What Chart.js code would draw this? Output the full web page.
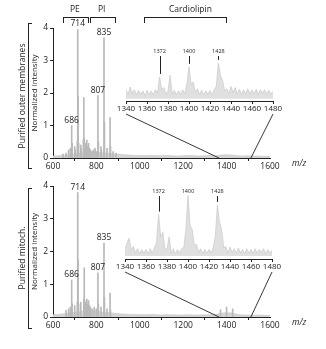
<!DOCTYPE html>
<html>
<head>
<meta charset="utf-8">
<script src="https://cdn.jsdelivr.net/npm/chart.js@4.4.1/dist/chart.umd.min.js"></script>
<style>
  body{margin:0;background:#fff;width:326px;height:349px;position:relative;overflow:hidden;font-family:"Open Sans",sans-serif;color:#222}
  canvas{position:absolute}
  .t{position:absolute;font-size:8.5px;white-space:nowrap;line-height:1}
  .br{position:absolute;border:1px solid #222;border-bottom:none;height:5px}
  .vb{position:absolute;border:1px solid #222;border-right:none;width:3px}
  .rot{position:absolute;transform:translate(-50%,-50%) rotate(-90deg);font-size:8.5px;white-space:nowrap}
</style>
</head>
<body>
<canvas id="mainTop" width="326" height="175" style="left:0;top:0"></canvas>
<canvas id="mainBot" width="326" height="179" style="left:0;top:170px"></canvas>
<canvas id="insetTop" width="180" height="75" style="left:110px;top:40px"></canvas>
<canvas id="insetBot" width="180" height="94" style="left:110px;top:180px"></canvas>

<!-- lipid class brackets -->
<div class="t" style="left:70px;top:5px">PE</div>
<div class="t" style="left:98px;top:5px">PI</div>
<div class="t" style="left:169px;top:5px">Cardiolipin</div>
<div class="br" style="left:63px;top:17px;width:24px"></div>
<div class="br" style="left:90px;top:17px;width:24px"></div>
<div class="br" style="left:144px;top:17px;width:81px"></div>

<!-- panel brackets and titles -->
<div class="vb" style="left:28px;top:23px;height:144px"></div>
<div class="vb" style="left:28px;top:188px;height:139px"></div>
<div class="rot" style="left:21px;top:96px">Purified outer membranes</div>
<div class="rot" style="left:21px;top:258px">Purified mitoch.</div>

<div class="t" style="left:292px;top:159px;font-style:italic">m/z</div>
<div class="t" style="left:292px;top:318px;font-style:italic">m/z</div>

<script>
// ---------- axes ----------
const mainTicksX = [600, 800, 1000, 1200, 1400, 1600];
const mainTicksY = [0, 1, 2, 3, 4];
const insetTicksX = [1340, 1360, 1380, 1400, 1420, 1440, 1460, 1480];

// ---------- outer membranes, peak sticks ----------
const outerMz  = [646, 660, 672, 680, 686, 688, 700, 702, 712, 714, 716, 718, 728, 730, 740, 742, 744, 750, 752, 756, 760, 764, 768, 772, 778, 786, 794, 800, 807, 809, 821, 823, 835, 837, 849, 863, 865, 877, 891];
const outerInt = [0.12, 0.15, 0.25, 0.3, 1.0, 0.45, 0.35, 0.25, 0.5, 3.96, 1.9, 0.45, 0.4, 0.3, 0.55, 1.86, 0.6, 0.45, 0.35, 0.55, 0.35, 0.45, 0.3, 0.25, 0.2, 0.25, 0.3, 0.2, 1.92, 0.5, 0.35, 0.25, 3.7, 1.1, 0.3, 1.24, 0.35, 0.2, 0.15];

// ---------- mitochondria, peak sticks ----------
const mitoMz  = [660, 672, 680, 686, 688, 700, 712, 714, 716, 718, 728, 742, 744, 746, 750, 756, 760, 764, 768, 772, 780, 790, 800, 807, 809, 821, 835, 837, 849, 863, 865, 1372, 1400, 1428];
const mitoInt = [0.2, 0.25, 0.3, 1.13, 0.4, 0.35, 0.45, 3.8, 1.75, 0.4, 0.45, 0.55, 1.5, 0.5, 0.45, 0.55, 0.4, 0.5, 0.35, 0.3, 0.25, 0.3, 0.25, 1.35, 0.4, 0.3, 2.26, 0.6, 0.25, 0.73, 0.2, 0.22, 0.3, 0.25];

// ---------- baseline noise, every 25 m/z from 600 to 1600 ----------
const noiseMz = [600, 625, 650, 675, 700, 725, 750, 775, 800, 825, 850, 875, 900, 925, 950, 975, 1000, 1025, 1050, 1075, 1100, 1125, 1150, 1175, 1200, 1225, 1250, 1275, 1300, 1325, 1350, 1375, 1400, 1425, 1450, 1475, 1500, 1525, 1550, 1575, 1600];
const outerNoise = [0.06, 0.07, 0.08, 0.1, 0.12, 0.15, 0.18, 0.2, 0.18, 0.16, 0.15, 0.13, 0.12, 0.1, 0.09, 0.08, 0.08, 0.07, 0.08, 0.07, 0.07, 0.08, 0.07, 0.06, 0.07, 0.08, 0.07, 0.06, 0.07, 0.08, 0.07, 0.09, 0.1, 0.09, 0.07, 0.06, 0.07, 0.06, 0.06, 0.05, 0.05];
const mitoNoise  = [0.07, 0.08, 0.1, 0.12, 0.14, 0.16, 0.2, 0.22, 0.18, 0.15, 0.14, 0.12, 0.1, 0.09, 0.08, 0.08, 0.07, 0.07, 0.08, 0.07, 0.06, 0.07, 0.07, 0.06, 0.06, 0.07, 0.06, 0.06, 0.07, 0.07, 0.08, 0.12, 0.13, 0.12, 0.08, 0.06, 0.06, 0.05, 0.06, 0.05, 0.05];

const peakLabels = [686, 714, 807, 835];

// ---------- cardiolipin insets, every 2 m/z from 1340 to 1480 ----------
const insetMz = [1340, 1342, 1344, 1346, 1348, 1350, 1352, 1354, 1356, 1358, 1360, 1362, 1364, 1366, 1368, 1370, 1372, 1374, 1376, 1378, 1380, 1382, 1384, 1386, 1388, 1390, 1392, 1394, 1396, 1398, 1400, 1402, 1404, 1406, 1408, 1410, 1412, 1414, 1416, 1418, 1420, 1422, 1424, 1426, 1428, 1430, 1432, 1434, 1436, 1438, 1440, 1442, 1444, 1446, 1448, 1450, 1452, 1454, 1456, 1458, 1460, 1462, 1464, 1466, 1468, 1470, 1472, 1474, 1476, 1478, 1480];
const outerCL = [0.2, 0.12, 0.25, 0.14, 0.2, 0.11, 0.19, 0.12, 0.18, 0.1,
                 0.19, 0.12, 0.18, 0.11, 0.2, 0.14, 0.43, 0.2, 0.24, 0.12,
                 0.18, 0.46, 0.12, 0.19, 0.11, 0.18, 0.12, 0.2, 0.13, 0.3,
                 0.61, 0.3, 0.34, 0.16, 0.22, 0.12, 0.19, 0.11, 0.18, 0.12,
                 0.19, 0.11, 0.2, 0.26, 0.68, 0.45, 0.36, 0.18, 0.22, 0.13,
                 0.26, 0.15, 0.24, 0.13, 0.21, 0.12, 0.2, 0.13, 0.22, 0.12,
                 0.2, 0.13, 0.21, 0.12, 0.2, 0.14, 0.2, 0.12, 0.19, 0.13,
                 0.17];
const mitoCL  = [0.14, 0.22, 0.28, 0.12, 0.17, 0.08, 0.14, 0.07, 0.13, 0.08,
                 0.13, 0.07, 0.14, 0.08, 0.15, 0.22, 0.6, 0.3, 0.36, 0.14,
                 0.13, 0.3, 0.08, 0.14, 0.07, 0.13, 0.08, 0.14, 0.16, 0.4,
                 0.86, 0.45, 0.4, 0.18, 0.2, 0.09, 0.14, 0.07, 0.13, 0.08,
                 0.13, 0.08, 0.16, 0.3, 0.73, 0.5, 0.4, 0.15, 0.17, 0.08,
                 0.16, 0.09, 0.14, 0.08, 0.15, 0.08, 0.13, 0.07, 0.14, 0.08,
                 0.13, 0.07, 0.14, 0.08, 0.13, 0.09, 0.14, 0.07, 0.13, 0.08,
                 0.12];
const clLabels = [1372, 1400, 1428];

// where the zoom lines meet the main axis
const zoomFrom = [1340, 1480];
const zoomTo   = [1365, 1512];

const INK = '#222';
const GREY = '#b9b9b9';
Chart.defaults.font.family = '"Open Sans", sans-serif';
Chart.defaults.color = INK;
Chart.defaults.animation = false;

function xy(xs, ys){ return xs.map((x,i) => ({x:x, y:ys[i]})); }
const plain = v => String(v);

// ==================== INSET ====================
function makeInset(id, vals, pad, axisH){
    const labelPlugin = {
        id:'cl',
        afterDatasetsDraw(c){
            const ctx = c.ctx, top = c.chartArea.top;
            ctx.save();
            ctx.font = '5.5px "Open Sans"';
            ctx.fillStyle = INK; ctx.strokeStyle = INK; ctx.lineWidth = 1;
            ctx.textAlign = 'center'; ctx.textBaseline = 'middle';
            clLabels.forEach(m => {
                const px = c.scales.x.getPixelForValue(m);
                const py = c.scales.y.getPixelForValue(vals[insetMz.indexOf(m)]);
                ctx.fillText(String(m), px, top + 6);
                if(py - 3 > top + 11){
                    ctx.beginPath();
                    ctx.moveTo(Math.round(px)+0.5, top + 11);
                    ctx.lineTo(Math.round(px)+0.5, py - 3);
                    ctx.stroke();
                }
            });
            ctx.restore();
        }
    };
    return new Chart(document.getElementById(id), {
        type:'line',
        data:{ datasets:[{
            data: xy(insetMz, vals),
            borderColor:'#c8c8c8', borderWidth:0.7,
            backgroundColor:'#e0e0e0',
            fill:{value:0.04}, pointRadius:0, tension:0
        }]},
        options:{
            responsive:false,
            layout:{ padding:pad },
            plugins:{ legend:{display:false}, tooltip:{enabled:false} },
            scales:{
                x:{ type:'linear', min:1340, max:1480,
                    afterBuildTicks: s => { s.ticks = insetTicksX.map(v => ({value:v})); },
                    afterFit: s => { s.height = axisH; },
                    border:{ display:true, color:INK, width:1 },
                    grid:{ display:true, drawOnChartArea:false, drawTicks:true, tickLength:3, color:INK },
                    ticks:{ font:{size:8}, padding:0, maxRotation:0, autoSkip:false, callback:plain }
                },
                y:{ display:false, min:0, max:1 }
            }
        },
        plugins:[labelPlugin]
    });
}

// ==================== MAIN PANEL ====================
function makeMain(id, mz, inten, noise, pad, inset, insetPos, mainTop){
    const annot = {
        id:'annot',
        afterDatasetsDraw(c){
            const ctx = c.ctx, x = c.scales.x, y = c.scales.y;
            ctx.save();
            ctx.fillStyle = INK;
            ctx.font = '8.5px "Open Sans"';
            ctx.textAlign = 'center'; ctx.textBaseline = 'bottom';
            peakLabels.forEach(m => {
                const h = inten[mz.indexOf(m)];
                ctx.fillText(String(m), x.getPixelForValue(m), y.getPixelForValue(h) - 1);
            });
            // zoom lines from inset axis down to main axis
            ctx.strokeStyle = INK; ctx.lineWidth = 0.9;
            zoomFrom.forEach((v,i) => {
                const sx = inset.scales.x.getPixelForValue(v) + insetPos[0];
                const sy = inset.chartArea.bottom + insetPos[1] - mainTop + 13;
                ctx.beginPath();
                ctx.moveTo(sx, sy);
                ctx.lineTo(x.getPixelForValue(zoomTo[i]), c.chartArea.bottom);
                ctx.stroke();
            });
            ctx.restore();
        }
    };
    return new Chart(document.getElementById(id), {
        type:'bar',
        data:{ datasets:[
            { type:'bar', data: xy(mz, inten), backgroundColor:GREY,
              barThickness:1, grouped:false, order:1 },
            { type:'line', data: xy(noiseMz, noise), borderColor:'#c4c4c4', borderWidth:0.6,
              backgroundColor:'#d4d4d4', fill:'origin', pointRadius:0, tension:0, order:2 }
        ]},
        options:{
            responsive:false,
            layout:{ padding:pad },
            plugins:{ legend:{display:false}, tooltip:{enabled:false} },
            scales:{
                x:{ type:'linear', min:600, max:1600, offset:false,
                    afterBuildTicks: s => { s.ticks = mainTicksX.map(v => ({value:v})); },
                    afterFit: s => { s.height = 17; },
                    border:{ display:true, color:INK, width:1 },
                    grid:{ display:true, drawOnChartArea:false, drawTicks:true, tickLength:3, color:INK },
                    ticks:{ font:{size:8.5}, padding:0, maxRotation:0, autoSkip:false, callback:plain }
                },
                y:{ min:0, max:4,
                    afterBuildTicks: s => { s.ticks = mainTicksY.map(v => ({value:v})); },
                    afterFit: s => { s.width = 23; },
                    border:{ display:true, color:INK, width:1 },
                    grid:{ display:true, drawOnChartArea:false, drawTicks:true, tickLength:3, color:INK },
                    ticks:{ font:{size:8.5}, padding:2, callback:plain },
                    title:{ display:true, text:'Normalized intensity', font:{size:8}, padding:0 }
                }
            }
        },
        plugins:[annot]
    });
}

const insTop = makeInset('insetTop', outerCL, {left:16, right:17, top:5, bottom:0}, 14);
const insBot = makeInset('insetBot', mitoCL, {left:15, right:18, top:5, bottom:0}, 15);

makeMain('mainTop', outerMz, outerInt, outerNoise, {left:30, right:56, top:28, bottom:0}, insTop, [110, 40], 0);
makeMain('mainBot', mitoMz, mitoInt, mitoNoise, {left:30, right:56, top:16, bottom:15}, insBot, [110, 180], 170);
</script>
</body>
</html>
